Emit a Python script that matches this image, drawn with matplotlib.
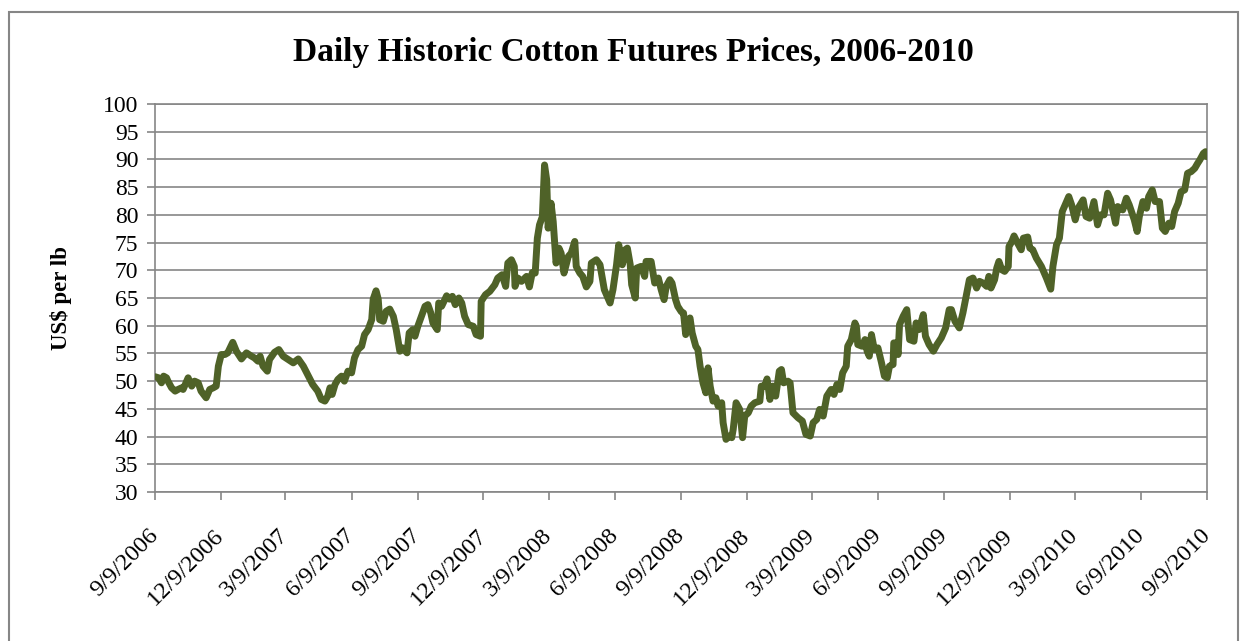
import matplotlib
matplotlib.use("Agg")
import matplotlib.pyplot as plt
from matplotlib.patches import Rectangle
import pandas as pd

# ---------------- data ----------------
dates = [
    "2006-09-09", "2006-09-14", "2006-09-18", "2006-09-21", "2006-09-25", "2006-09-27",
    "2006-10-02", "2006-10-07", "2006-10-11", "2006-10-16", "2006-10-18", "2006-10-25",
    "2006-10-30", "2006-11-03", "2006-11-08", "2006-11-12", "2006-11-19", "2006-11-24",
    "2006-11-29", "2006-12-03", "2006-12-06", "2006-12-10", "2006-12-15", "2006-12-19",
    "2006-12-26", "2006-12-31", "2007-01-07", "2007-01-14", "2007-01-21", "2007-01-25",
    "2007-01-30", "2007-02-02", "2007-02-06", "2007-02-12", "2007-02-15", "2007-02-22",
    "2007-02-28", "2007-03-06", "2007-03-13", "2007-03-20", "2007-03-27", "2007-04-03",
    "2007-04-10", "2007-04-16", "2007-04-23", "2007-04-28", "2007-05-03", "2007-05-07",
    "2007-05-10", "2007-05-13", "2007-05-17", "2007-05-21", "2007-05-26", "2007-05-30",
    "2007-06-04", "2007-06-09", "2007-06-13", "2007-06-18", "2007-06-23", "2007-06-27",
    "2007-07-02", "2007-07-07", "2007-07-09", "2007-07-13", "2007-07-16", "2007-07-18",
    "2007-07-23", "2007-07-27", "2007-08-01", "2007-08-06", "2007-08-10", "2007-08-15",
    "2007-08-19", "2007-08-25", "2007-08-28", "2007-09-02",
    "2007-09-05", "2007-09-09", "2007-09-14", "2007-09-19", "2007-09-23", "2007-09-27",
    "2007-09-30", "2007-10-06", "2007-10-08", "2007-10-12", "2007-10-19", "2007-10-23",
    "2007-10-27", "2007-10-31", "2007-11-05", "2007-11-09", "2007-11-13", "2007-11-18",
    "2007-11-25", "2007-11-29", "2007-12-05", "2007-12-06", "2007-12-12", "2007-12-18",
    "2007-12-25", "2007-12-29", "2008-01-04", "2008-01-09", "2008-01-12", "2008-01-17",
    "2008-01-21", "2008-01-22", "2008-01-26", "2008-01-31", "2008-02-07", "2008-02-11",
    "2008-02-15", "2008-02-19", "2008-02-22", "2008-02-25", "2008-02-29", "2008-03-03",
    "2008-03-06", "2008-03-08", "2008-03-12", "2008-03-15", "2008-03-19", "2008-03-23",
    "2008-03-26", "2008-03-30", "2008-04-05", "2008-04-09", "2008-04-14", "2008-04-16",
    "2008-04-21", "2008-04-25", "2008-04-30", "2008-05-05", "2008-05-07", "2008-05-14",
    "2008-05-19", "2008-05-25", "2008-06-02", "2008-06-06", "2008-06-11", "2008-06-14",
    "2008-06-19", "2008-06-23", "2008-06-26", "2008-06-30", "2008-07-02", "2008-07-07",
    "2008-07-09", "2008-07-15", "2008-07-20", "2008-07-22", "2008-07-29", "2008-08-03",
    "2008-08-08", "2008-08-12", "2008-08-16", "2008-08-19", "2008-08-24", "2008-08-27",
    "2008-09-01", "2008-09-04", "2008-09-09",
    "2008-09-12", "2008-09-15", "2008-09-18", "2008-09-21", "2008-09-24", "2008-09-29",
    "2008-10-02", "2008-10-05", "2008-10-09", "2008-10-13", "2008-10-16", "2008-10-19",
    "2008-10-23", "2008-10-27", "2008-10-30", "2008-11-04", "2008-11-06", "2008-11-10",
    "2008-11-14", "2008-11-18", "2008-11-20", "2008-11-24", "2008-11-29", "2008-12-03",
    "2008-12-06", "2008-12-11", "2008-12-15", "2008-12-20", "2008-12-27", "2008-12-29",
    "2009-01-03", "2009-01-06", "2009-01-10", "2009-01-14", "2009-01-18", "2009-01-23",
    "2009-01-26", "2009-01-29", "2009-02-04", "2009-02-07", "2009-02-11", "2009-02-18",
    "2009-02-24", "2009-03-01", "2009-03-07", "2009-03-11", "2009-03-16", "2009-03-20",
    "2009-03-25", "2009-03-30", "2009-04-05", "2009-04-09", "2009-04-13", "2009-04-17",
    "2009-04-21", "2009-04-26", "2009-04-28", "2009-05-03", "2009-05-08", "2009-05-10",
    "2009-05-12", "2009-05-18", "2009-05-22", "2009-05-25", "2009-05-28", "2009-05-31",
    "2009-06-04", "2009-06-09", "2009-06-14", "2009-06-18", "2009-06-22", "2009-06-25",
    "2009-06-30", "2009-07-01", "2009-07-05", "2009-07-07", "2009-07-09", "2009-07-14",
    "2009-07-19", "2009-07-23", "2009-07-29", "2009-08-01", "2009-08-05", "2009-08-11",
    "2009-08-14", "2009-08-19", "2009-08-25", "2009-08-30", "2009-09-05", "2009-09-11",
    "2009-09-16",
    "2009-09-19", "2009-09-24", "2009-09-30", "2009-10-05", "2009-10-10", "2009-10-14",
    "2009-10-19", "2009-10-24", "2009-10-28", "2009-11-02", "2009-11-07", "2009-11-10",
    "2009-11-13", "2009-11-18", "2009-11-21", "2009-11-24", "2009-11-28", "2009-12-02",
    "2009-12-07", "2009-12-08", "2009-12-12", "2009-12-15", "2009-12-20", "2009-12-25",
    "2009-12-28", "2010-01-03", "2010-01-06", "2010-01-10", "2010-01-15", "2010-01-22",
    "2010-01-29", "2010-02-04", "2010-02-07", "2010-02-12", "2010-02-16", "2010-02-20",
    "2010-02-23", "2010-03-01", "2010-03-05", "2010-03-10", "2010-03-14", "2010-03-21",
    "2010-03-25", "2010-03-30", "2010-04-05", "2010-04-10", "2010-04-14", "2010-04-19",
    "2010-04-24", "2010-04-28", "2010-05-01", "2010-05-05", "2010-05-08", "2010-05-15",
    "2010-05-20", "2010-05-24", "2010-05-31", "2010-06-04", "2010-06-07", "2010-06-12",
    "2010-06-17", "2010-06-20", "2010-06-25", "2010-06-29", "2010-07-05", "2010-07-09",
    "2010-07-13", "2010-07-18", "2010-07-22", "2010-07-26", "2010-07-31", "2010-08-04",
    "2010-08-09", "2010-08-13", "2010-08-18", "2010-08-23", "2010-08-27", "2010-08-30",
    "2010-09-04", "2010-09-07", "2010-09-09",
]

prices = [
    50.8, 50.6, 49.7, 50.9, 50.6, 50.0,
    48.8, 48.2, 48.5, 48.8, 48.5, 50.6,
    49.1, 50.0, 49.7, 48.2, 47.0, 48.5,
    48.8, 49.1, 52.7, 54.8, 54.8, 55.1,
    57.0, 55.4, 54.0, 55.1, 54.5, 54.2,
    53.6, 54.5, 52.7, 51.8, 53.9, 55.2,
    55.7, 54.5, 53.9, 53.3, 54.0, 52.7,
    50.9, 49.4, 48.2, 46.7, 46.4, 47.3,
    48.8, 47.6, 49.4, 50.3, 50.9, 50.0,
    51.8, 51.5, 54.2, 55.7, 56.3, 58.4,
    59.3, 61.1, 64.8, 66.3, 64.8, 61.1,
    60.8, 62.6, 63.0, 61.7, 59.3, 55.4,
    56.0, 55.1, 58.7, 59.3,
    58.1, 59.9, 61.7, 63.5, 63.8, 62.3,
    60.5, 59.3, 64.1, 63.5, 65.4, 64.8,
    65.3, 63.8, 65.0, 64.1, 61.7, 60.2,
    59.9, 58.4, 58.1, 64.4, 65.6, 66.2,
    67.4, 68.6, 69.2, 67.1, 71.3, 71.9,
    70.7, 67.1, 68.6, 68.0, 68.9, 67.0,
    69.6, 69.5, 75.8, 78.2, 79.7, 89.0,
    86.3, 77.6, 82.1, 78.8, 71.3, 74.0,
    73.1, 69.5, 72.5, 73.1, 75.2, 70.7,
    69.5, 68.9, 67.0, 68.0, 71.3, 71.9,
    71.0, 66.5, 64.1, 66.5, 71.0, 74.6,
    71.0, 73.7, 74.0, 71.0, 67.4, 65.0,
    70.4, 70.7, 68.9, 71.6, 71.6, 67.7,
    68.6, 66.5, 64.7, 67.1, 68.3, 67.7,
    64.7, 63.5, 62.5,
    62.3, 58.4, 60.5, 61.4, 58.7, 56.3,
    55.7, 52.7, 49.7, 47.9, 52.4, 49.1,
    46.4, 47.0, 45.5, 46.1, 42.5, 39.5,
    40.1, 39.8, 41.3, 46.1, 44.9, 39.8,
    43.7, 44.3, 45.5, 46.1, 46.4, 49.1,
    49.1, 50.4, 46.7, 49.1, 47.3, 51.8,
    52.1, 49.7, 50.0, 49.7, 44.3, 43.4,
    42.8, 40.4, 40.1, 42.5, 43.1, 44.9,
    43.7, 47.3, 48.5, 47.6, 49.4, 48.5,
    51.5, 52.7, 56.3, 57.5, 60.5, 59.9,
    56.6, 56.3, 57.5, 55.4, 54.5, 58.4,
    55.7, 56.0, 53.3, 50.9, 50.6, 52.7,
    53.0, 56.9, 56.9, 54.8, 60.2, 61.7,
    62.9, 57.5, 57.2, 60.5, 59.3, 62.0,
    58.1, 56.6, 55.4, 56.6, 57.8, 59.6,
    62.9,
    62.9, 60.8, 59.6, 62.3, 65.6, 68.3,
    68.6, 66.8, 68.0, 67.7, 67.1, 68.9,
    66.8, 68.3, 70.4, 71.6, 70.1, 69.8,
    70.7, 74.3, 75.2, 76.2, 74.9, 73.7,
    75.8, 76.0, 74.0, 73.7, 72.2, 70.7,
    68.6, 66.6, 70.7, 74.6, 75.8, 80.6,
    81.5, 83.3, 81.8, 79.1, 81.2, 82.7,
    79.7, 79.4, 82.4, 78.2, 80.0, 80.0,
    83.9, 82.7, 80.9, 78.5, 81.5, 80.9,
    83.0, 81.8, 79.1, 77.0, 79.7, 82.4,
    81.2, 83.3, 84.5, 82.4, 82.4, 77.6,
    77.0, 78.5, 77.9, 80.6, 82.1, 84.2,
    84.5, 87.5, 87.8, 88.4, 89.3, 89.9,
    91.1, 91.4, 90.5,
]

tick_dates = [
    "2006-09-09", "2006-12-09", "2007-03-09", "2007-06-09", "2007-09-09",
    "2007-12-09", "2008-03-09", "2008-06-09", "2008-09-09", "2008-12-09",
    "2009-03-09", "2009-06-09", "2009-09-09", "2009-12-09", "2010-03-09",
    "2010-06-09", "2010-09-09",
]
tick_labels = [
    "9/9/2006", "12/9/2006", "3/9/2007", "6/9/2007", "9/9/2007",
    "12/9/2007", "3/9/2008", "6/9/2008", "9/9/2008", "12/9/2008",
    "3/9/2009", "6/9/2009", "9/9/2009", "12/9/2009", "3/9/2010",
    "6/9/2010", "9/9/2010",
]
y_ticks = list(range(30, 101, 5))

title = "Daily Historic Cotton Futures Prices, 2006-2010"
ylabel = "US$ per lb"

# ---------------- style ----------------
plt.rcParams["font.family"] = ["Liberation Serif", "DejaVu Serif"]
GRAY = "#868686"
LINE = "#4F6228"

W, H = 1247, 641
fig = plt.figure(figsize=(W / 100, H / 100), dpi=100)
fig.patch.set_facecolor("white")

# outer chart border
fig.patches.append(Rectangle((9 / W, -0.05), (1238 - 9) / W, 1 - 12 / H + 0.05,
                             transform=fig.transFigure, fill=False,
                             edgecolor=GRAY, linewidth=1.5))

ax = fig.add_axes([155 / W, 1 - 492 / H, (1207 - 155) / W, (492 - 104) / H])

x = pd.to_datetime(dates)
ax.plot(x, prices, color=LINE, linewidth=5.0, solid_joinstyle="round",
        solid_capstyle="round", zorder=3)

ax.set_xlim(pd.Timestamp(tick_dates[0]), pd.Timestamp(tick_dates[-1]))
ax.set_ylim(30, 100)
ax.set_yticks(y_ticks)
ax.set_yticklabels([str(v) for v in y_ticks], fontsize=17)
ax.set_xticks(pd.to_datetime(tick_dates))
ax.set_xticklabels(tick_labels, fontsize=17.5, rotation=45, ha="right",
                   rotation_mode="anchor", va="center")

ax.yaxis.grid(True, color=GRAY, linewidth=1.2, zorder=1)
ax.set_axisbelow(True)
for s in ["left", "bottom", "right", "top"]:
    ax.spines[s].set_color(GRAY)
    ax.spines[s].set_linewidth(1.2)
ax.tick_params(axis="both", colors=GRAY, length=6, width=1.2, labelcolor="black")
ax.tick_params(axis="x", pad=23)
ax.tick_params(axis="y", pad=6)

ax.set_ylabel(ylabel, fontsize=16.5, fontweight="bold", labelpad=22)
fig.text(633 / W, 1 - 53 / H, title, fontsize=24, fontweight="bold",
         ha="center", va="center")

fig.savefig("out.png", dpi=100, facecolor="white")
